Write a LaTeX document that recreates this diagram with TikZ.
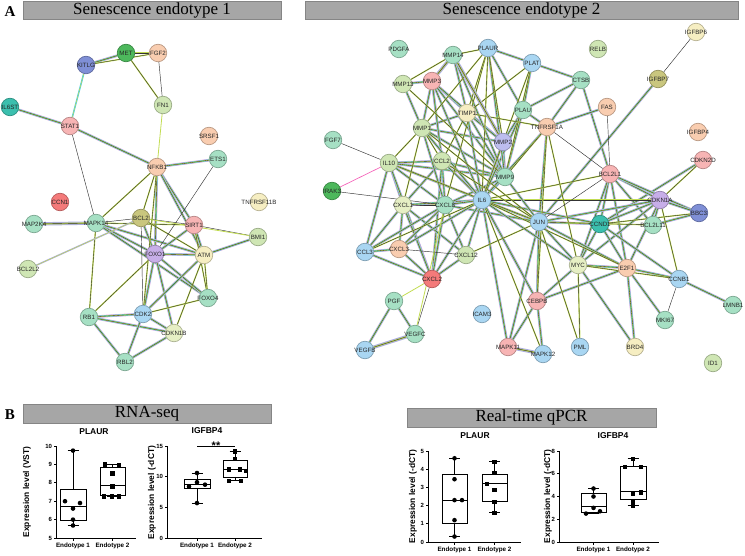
\documentclass[tikz,border=0pt]{standalone}
\usepackage{fontspec}
\setmainfont{Liberation Serif}
\setsansfont{Liberation Sans}
\usetikzlibrary{backgrounds}
\definecolor{cBlueD}{HTML}{7F8FD6}
\definecolor{cGreenD}{HTML}{4DB85C}
\definecolor{cPeach}{HTML}{F9CDB0}
\definecolor{cLGreen}{HTML}{CFE6B4}
\definecolor{cTeal}{HTML}{3BBFAE}
\definecolor{cPink}{HTML}{F7B4B4}
\definecolor{cMint}{HTML}{A6E0C4}
\definecolor{cRed}{HTML}{F47A7A}
\definecolor{cYellowL}{HTML}{F6EEC2}
\definecolor{cOlive}{HTML}{C9C67E}
\definecolor{cPurple}{HTML}{C7AEE8}
\definecolor{cLBlue}{HTML}{A9D6F2}
\definecolor{cLav}{HTML}{BDBDEE}
\definecolor{cYellowG}{HTML}{E6EFC4}
\definecolor{hdrgray}{HTML}{A6A6A6}
\definecolor{hdrline}{HTML}{858585}
\definecolor{epink}{HTML}{E6A2E0}
\definecolor{ecyan}{HTML}{48CBEA}
\definecolor{eyg}{HTML}{C2DC52}
\definecolor{elav}{HTML}{A9A9E6}
\newcommand\bxplot[7]{%
  \pgfmathsetmacro\mybc{(#1+#2)/2}%
  \draw[bxl] (#1,#4) rectangle (#2,#6);
  \draw[bxl] (#1,#5) -- (#2,#5);
  \draw[bxl] (\mybc,#3) -- (\mybc,#4) (\mybc,#6) -- (\mybc,#7);
  \draw[bxl] (\mybc-5.5,#3) -- (\mybc+5.5,#3) (\mybc-5.5,#7) -- (\mybc+5.5,#7);
}
\newcommand\cpt[2]{\fill (#1,#2) circle[radius=2.3pt];}
\newcommand\spt[2]{\fill (#1,#2) ++(-2.2pt,-2.2pt) rectangle ++(4.4pt,4.4pt);}
\newcommand\gn[4]{\node[gn=#1] (#2) at (#3,#4) {\makebox[0pt]{#2}};}
\tikzset{
  gn/.style={circle, minimum size=17.5pt, inner sep=0pt, fill=#1, draw=#1!75!black, line width=0.7pt,
    font=\fontsize{6.2}{6.2}\selectfont\sffamily, text=black!85},
  hdr/.style={rectangle, fill=hdrgray, draw=hdrline, line width=0.6pt, inner sep=0pt,
    font=\fontsize{17}{17}\selectfont},
  eB/.style={draw=black!80, line width=0.35pt, preaction={draw=epink, line width=2.6pt},
    preaction={draw=ecyan, line width=1.8pt}, preaction={draw=eyg, line width=1.05pt}},
  eA/.style={draw=black!80, line width=0.4pt, preaction={draw=eyg, line width=1.3pt}},
  eK/.style={draw=black!80, line width=0.45pt},
  eY/.style={draw=eyg, line width=0.8pt},
  eC/.style={draw=eyg, line width=0.5pt, preaction={draw=ecyan, line width=1.5pt}},
  eL/.style={draw=eyg, line width=0.5pt, preaction={draw=elav, line width=1.5pt}},
  eP/.style={draw=black!80, line width=0.4pt, preaction={draw=elav, line width=3.4pt},
    preaction={draw=eyg, line width=1.5pt}},
  eM/.style={draw=magenta!60, line width=0.7pt},
  ax/.style={line width=0.9pt},
  bxl/.style={line width=1pt},
  tkl/.style={font=\fontsize{6}{6}\selectfont\sffamily\bfseries, inner sep=1pt},
  xl/.style={font=\fontsize{6.3}{6.3}\selectfont\sffamily\bfseries, inner sep=1.5pt},
  yl/.style={font=\fontsize{8.4}{8.4}\selectfont\sffamily\bfseries, rotate=90},
  ptitle/.style={font=\fontsize{8.5}{8.5}\selectfont\sffamily\bfseries},
  plab/.style={font=\fontsize{15}{15}\selectfont\bfseries}
}
\begin{document}
\begin{tikzpicture}[x=1pt,y=-1pt]
\useasboundingbox (0,0) rectangle (745,556);
% headers
\node[plab] (lblA) at (10,12) {A};
\node[hdr, minimum width=258pt, minimum height=18pt] (h1) at (152,10) {Senescence endotype 1};
\node[hdr, minimum width=433pt, minimum height=18pt] (h2) at (521.5,10) {Senescence endotype 2};
\node[plab] (lblB) at (10,415) {B};
\node[hdr, minimum width=248pt, minimum height=19pt] (h3) at (147,413.5) {RNA-seq};
\node[hdr, minimum width=249pt, minimum height=19pt] (h4) at (531.5,417.5) {Real-time qPCR};

% ---------- left network nodes
\gn{cBlueD}{KITLG}{86}{65}
\gn{cGreenD}{MET}{126}{53}
\gn{cPeach}{FGF2}{158}{53}
\gn{cLGreen}{FN1}{163}{105}
\gn{cTeal}{IL6ST}{10}{107}
\gn{cPink}{STAT1}{70}{126}
\gn{cPeach}{SRSF1}{209}{136}
\gn{cMint}{ETS1}{218}{159}
\gn{cPeach}{NFKB1}{157}{167}
\gn{cRed}{CCN1}{60}{202}
\gn{cYellowL}{TNFRSF11B}{259}{202}
\gn{cMint}{MAP2K4}{34}{224}
\gn{cMint}{MAPK14}{96}{223}
\gn{cOlive}{BCL2}{141}{218}
\gn{cPink}{SIRT1}{194}{225}
\gn{cLGreen}{BMI1}{258}{237}
\gn{cPurple}{FOXO1}{155}{254}
\gn{cYellowL}{ATM}{204}{255}
\gn{cLGreen}{BCL2L2}{28}{269}
\gn{cMint}{FOXO4}{208}{298}
\gn{cMint}{RB1}{89}{317}
\gn{cLBlue}{CDK2}{143}{314}
\gn{cYellowG}{CDKN1B}{174}{333}
\gn{cMint}{RBL2}{125}{362}

% ---------- right network nodes
\gn{cMint}{PDGFA}{399}{49}
\gn{cMint}{MMP14}{453}{55}
\gn{cLBlue}{PLAUR}{488}{48}
\gn{cLBlue}{PLAT}{532}{63}
\gn{cLGreen}{RELB}{598}{49}
\gn{cYellowL}{IGFBP6}{696}{32}
\gn{cLGreen}{MMP13}{403}{84}
\gn{cPink}{MMP3}{432}{81}
\gn{cMint}{CTSB}{581}{80}
\gn{cOlive}{IGFBP7}{658}{79}
\gn{cPeach}{FAS}{607}{107}
\gn{cMint}{PLAU}{523}{110}
\gn{cYellowL}{TIMP1}{467}{113}
\gn{cLGreen}{MMP1}{422}{128}
\gn{cPeach}{TNFRSF1A}{547}{127}
\gn{cPeach}{IGFBP4}{698}{132}
\gn{cLav}{MMP2}{503}{142}
\gn{cMint}{FGF7}{333}{140}
\gn{cPink}{CDKN2D}{703}{160}
\gn{cLGreen}{IL10}{389}{163}
\gn{cLGreen}{CCL2}{442}{161}
\gn{cPink}{BCL2L1}{610}{174}
\gn{cMint}{MMP9}{505}{177}
\gn{cGreenD}{IRAK3}{332}{191}
\gn{cLBlue}{IL6}{482}{200}
\gn{cPurple}{CDKN1A}{660}{200}
\gn{cYellowG}{CXCL1}{403}{205}
\gn{cMint}{CXCL8}{445}{205}
\gn{cBlueD}{BBC3}{699}{213}
\gn{cLBlue}{JUN}{539}{222}
\gn{cTeal}{CCND1}{600}{224}
\gn{cMint}{BCL2L11}{653}{225}
\gn{cLBlue}{CCL3}{365}{252}
\gn{cPeach}{CXCL3}{399}{249}
\gn{cLGreen}{CXCL12}{466}{255}
\gn{cYellowG}{MYC}{578}{265}
\gn{cPeach}{E2F1}{627}{268}
\gn{cLBlue}{CCNB1}{679}{279}
\gn{cRed}{CXCL2}{432}{279}
\gn{cPink}{CEBPB}{537}{301}
\gn{cMint}{PGF}{394}{301}
\gn{cMint}{LMNB1}{733}{305}
\gn{cLBlue}{ICAM3}{482}{314}
\gn{cMint}{MKI67}{665}{320}
\gn{cMint}{VEGFC}{415}{334}
\gn{cLBlue}{VEGFB}{365}{350}
\gn{cPink}{MAPK11}{508}{347}
\gn{cLBlue}{PML}{580}{347}
\gn{cYellowL}{BRD4}{635}{347}
\gn{cLBlue}{MAPK12}{543}{354}
\gn{cLGreen}{ID1}{713}{363}

\begin{pgfonlayer}{background}
% left edges
\foreach \a/\b in {MET/FGF2, KITLG/MET, IL6ST/STAT1, STAT1/NFKB1, NFKB1/ETS1, NFKB1/FOXO1,
  NFKB1/SIRT1, NFKB1/ATM, MAPK14/FOXO1, MAPK14/ATM, MAPK14/FOXO4, BCL2/FOXO1, SIRT1/FOXO1,
  SIRT1/ATM, ATM/BMI1, FOXO1/ATM, FOXO1/FOXO4, FOXO1/CDK2, FOXO1/CDKN1B, ATM/CDK2, RB1/CDK2,
  RB1/CDKN1B, RB1/RBL2, CDK2/CDKN1B, CDK2/RBL2, CDKN1B/RBL2}
  \draw[eB] (\a) -- (\b);
\foreach \a/\b in {KITLG/FGF2, MET/FN1, NFKB1/BCL2, NFKB1/MAPK14, NFKB1/CDK2, MAPK14/SIRT1,
  MAPK14/RB1, BCL2/ATM, SIRT1/FOXO4, FOXO1/RB1, ATM/CDKN1B, ATM/FOXO4, CDK2/FOXO4}
  \draw[eA] (\a) -- (\b);
\foreach \a/\b in {FGF2/FN1, STAT1/MAPK14, ETS1/FOXO1, MAPK14/BCL2, BCL2/SIRT1, BCL2/CDK2, SIRT1/BMI1}
  \draw[eK] (\a) -- (\b);
\foreach \a/\b in {FN1/NFKB1, BCL2/BMI1}
  \draw[eY] (\a) -- (\b);
\draw[eC] (KITLG) -- (STAT1);
\draw[eP] (MAP2K4) -- (MAPK14);
\draw[eL] (BCL2L2) -- (BCL2);

% right edges
\foreach \a/\b in {MMP3/MMP13, MMP3/MMP1, MMP3/TIMP1, MMP3/MMP2, MMP3/MMP9, MMP13/MMP1, MMP1/TIMP1,
  MMP1/MMP2, MMP1/MMP9, TIMP1/MMP2, TIMP1/MMP9, MMP2/MMP9, PLAUR/PLAU, PLAUR/PLAT, PLAT/PLAU,
  PLAU/MMP2, PLAU/MMP9, PLAT/CTSB, CTSB/PLAU, CTSB/TNFRSF1A, CTSB/BCL2L1, FAS/TNFRSF1A,
  IGFBP7/JUN, CDKN2D/CCND1, BCL2L1/CDKN1A, BCL2L1/BBC3, BCL2L1/BCL2L11, BCL2L1/CCND1, BCL2L1/MYC,
  BCL2L1/E2F1, CDKN1A/BBC3, CDKN1A/CCND1, CDKN1A/JUN, CDKN1A/E2F1, CDKN1A/MYC, CDKN1A/BCL2L11,
  BBC3/BCL2L11, CCND1/JUN, CCND1/MYC, CCND1/E2F1, CCND1/CCNB1, MYC/E2F1, MYC/JUN, MYC/CEBPB,
  MYC/BRD4, E2F1/CCNB1, E2F1/MKI67, E2F1/BRD4, E2F1/CEBPB, E2F1/JUN, CCNB1/LMNB1, JUN/CEBPB,
  JUN/IL6, CEBPB/MAPK12, CEBPB/MAPK11, CEBPB/IL6, MAPK11/JUN, MAPK11/IL6,
  IL10/CXCL1, IL10/IL6, IL10/CXCL8, IL10/CCL2, IL10/CCL3, IL10/CXCL2, IL10/MMP9,
  CCL2/IL6, CCL2/CXCL8, CCL2/MMP9, CCL2/CXCL1, CCL2/CXCL2,
  CXCL1/CXCL8, CXCL1/IL6, CXCL1/CCL3, CXCL1/CXCL2, CXCL1/CXCL3, CXCL1/CXCL12,
  CXCL8/IL6, CXCL8/CXCL2, CXCL8/CXCL3, CXCL8/CCL3, CXCL8/CXCL12, CXCL8/MMP9, CXCL8/MMP1, CXCL8/JUN,
  CXCL2/CXCL3, CXCL2/CCL3, CXCL2/IL6, CXCL2/CXCL12, CXCL3/CCL3, CXCL12/IL6, PGF/VEGFB, PGF/VEGFC,
  MMP3/IL6, MMP3/CCL2, MMP1/IL6, MMP9/IL6, TIMP1/IL6, MMP2/IL6, PLAU/IL6, PLAUR/MMP9,
  MMP14/TIMP1, MMP14/MMP9, TNFRSF1A/IL6, TNFRSF1A/JUN, TNFRSF1A/PLAU,
  IL6/MYC, IL6/CEBPB, IL6/CCND1, IL6/CDKN1A, IL6/CXCL3, JUN/MMP9}
  \draw[eB] (\a) -- (\b);
\foreach \a/\b in {CDKN2D/CDKN1A, BCL2L1/IL6, BBC3/CCND1, MYC/PML, MYC/CCNB1, JUN/PML, MAPK12/IL6,
  IL10/MMP1, IL10/JUN, CCL2/MMP1, CCL2/TIMP1, CCL2/JUN, CXCL1/MMP1, CXCL8/PLAUR, CCL3/IL6,
  CXCL12/JUN, PLAUR/IL6, PLAUR/MMP2, PLAUR/TIMP1, PLAUR/MMP14, PLAUR/MMP1, MMP14/MMP13,
  MMP13/MMP9, PLAT/MMP9, PLAT/TIMP1, PLAT/IL6, TNFRSF1A/MMP9, TNFRSF1A/TIMP1, TNFRSF1A/MYC,
  TNFRSF1A/CEBPB, IL6/E2F1, JUN/MMP1, JUN/BCL2L11, CDKN1A/CCNB1}
  \draw[eA] (\a) -- (\b);
\foreach \a/\b in {FAS/BCL2L1, IGFBP6/IGFBP7, BCL2L1/JUN, CCNB1/MKI67, IL10/FGF7, IRAK3/CXCL8,
  CXCL2/VEGFC, CXCL3/CXCL12, TNFRSF1A/BCL2L1}
  \draw[eK] (\a) -- (\b);
\foreach \a/\b in {CXCL2/PGF, VEGFC/CXCL8}
  \draw[eY] (\a) -- (\b);
\draw[eM] (IRAK3) -- (IL10);
\foreach \a/\b in {MMP14/MMP3, MMP14/MMP2, MAPK11/MAPK12, VEGFB/VEGFC}
  \draw[eP] (\a) -- (\b);
\end{pgfonlayer}

% ---------- plot 1: PLAUR RNA-seq
\node[ptitle] (t1) at (94,432) {PLAUR};
\begin{scope}[shift={(0,630)}, y=18.4pt]
  \draw[ax] (56,10) -- (56,5) -- (136,5);
  \foreach \vv in {5,6,...,10} \draw[ax] (56,\vv) -- ++(-2.5pt,0) node[tkl, anchor=east] {\vv};
  \foreach \xx/\lab in {73/Endotype 1, 112.5/Endotype 2} \draw[ax] (\xx,5) -- ++(0,-2.5pt) node[xl, anchor=north] {\lab};
  \node[yl] (y1) at (27,7.5) {Expression level (VST)};
  \bxplot{60}{86}{5.68}{5.95}{6.72}{7.65}{9.75}
  \foreach \px/\py in {73/9.75,65/7.0,80/6.9,73/6.6,73/6.0,73/5.68} {\cpt{\px}{\py}}
  \bxplot{100}{125}{7.25}{7.3}{7.87}{8.82}{9.0}
  \foreach \px/\py in {105/9.0,119/8.95,112.5/8.5,112.5/7.8,104/7.25,112/7.25,119/7.25} {\spt{\px}{\py}}
\end{scope}

% ---------- plot 2: IGFBP4 RNA-seq
\node[ptitle] (t2) at (207,431) {IGFBP4};
\begin{scope}[shift={(0,538)}, y=6.13pt]
  \draw[ax] (167,15) -- (167,0) -- (262,0);
  \foreach \vv in {0,5,10,15} \draw[ax] (167,\vv) -- ++(-2.5pt,0) node[tkl, anchor=east] {\vv};
  \foreach \xx/\lab in {197/Endotype 1, 235/Endotype 2} \draw[ax] (\xx,0) -- ++(0,-2.5pt) node[xl, anchor=north] {\lab};
  \node[yl] (y2) at (152,7.4) {Expression level (-dCT)};
  \bxplot{184}{210}{5.7}{8.0}{8.8}{9.6}{10.6}
  \foreach \px/\py in {197/10.6,189/8.4,205/8.7,197/9.1,197/5.7} {\cpt{\px}{\py}}
  \bxplot{223}{247}{9.3}{9.8}{11.1}{12.6}{14.1}
  \foreach \px/\py in {235/14.1,235/12.9,229/11.2,240/11.2,246/10.9,229/9.3,241/9.3} {\spt{\px}{\py}}
  \draw[ax] (197,14.95) -- (235,14.95);
  \node[font=\fontsize{11}{11}\selectfont\sffamily\bfseries, inner sep=0pt] (sig) at (216,15.1) {**};
\end{scope}

% ---------- plot 3: PLAUR qPCR
\node[ptitle] (t3) at (475,436) {PLAUR};
\begin{scope}[shift={(0,542)}, y=18.2pt]
  \draw[ax] (428,5) -- (428,0) -- (521,0);
  \foreach \vv in {0,...,5} \draw[ax] (428,\vv) -- ++(-2.5pt,0) node[tkl, anchor=east] {\vv};
  \foreach \xx/\lab in {454.5/Endotype 1, 494.5/Endotype 2} \draw[ax] (\xx,0) -- ++(0,-2.5pt) node[xl, anchor=north] {\lab};
  \node[yl] (y3) at (413,2.5) {Expression level (-dCT)};
  \bxplot{442}{467}{0.3}{1.0}{2.3}{3.72}{4.6}
  \foreach \px/\py in {454.5/4.6,454.5/3.45,454.5/2.3,462/2.3,454.5/1.2,454.5/0.3} {\cpt{\px}{\py}}
  \bxplot{482}{507}{1.6}{2.25}{3.2}{3.73}{4.4}
  \foreach \px/\py in {494.5/4.4,494.5/3.8,487/3.2,494.5/2.85,494.5/2.2,494.5/1.6} {\spt{\px}{\py}}
\end{scope}

% ---------- plot 4: IGFBP4 qPCR
\node[ptitle] (t4) at (613,436) {IGFBP4};
\begin{scope}[shift={(0,542)}, y=11.375pt]
  \draw[ax] (559,8) -- (559,0) -- (659,0);
  \foreach \vv in {0,2,4,6,8} \draw[ax] (559,\vv) -- ++(-2.5pt,0) node[tkl, anchor=east] {\vv};
  \foreach \xx/\lab in {593.5/Endotype 1, 633/Endotype 2} \draw[ax] (\xx,0) -- ++(0,-2.5pt) node[xl, anchor=north] {\lab};
  \node[yl] (y4) at (548,4) {Expression level (-dCT)};
  \bxplot{581}{606}{2.5}{2.55}{3.08}{4.3}{4.7}
  \foreach \px/\py in {593.5/4.7,593.5/4.0,593.5/3.0,600/2.7,586/2.5} {\cpt{\px}{\py}}
  \bxplot{620}{646}{3.2}{3.78}{4.4}{6.68}{7.3}
  \foreach \px/\py in {633/7.3,625/6.6,641/6.6,641/4.35,633/4.2,633/3.55,633/3.2} {\spt{\px}{\py}}
\end{scope}
\end{tikzpicture}
\end{document}
